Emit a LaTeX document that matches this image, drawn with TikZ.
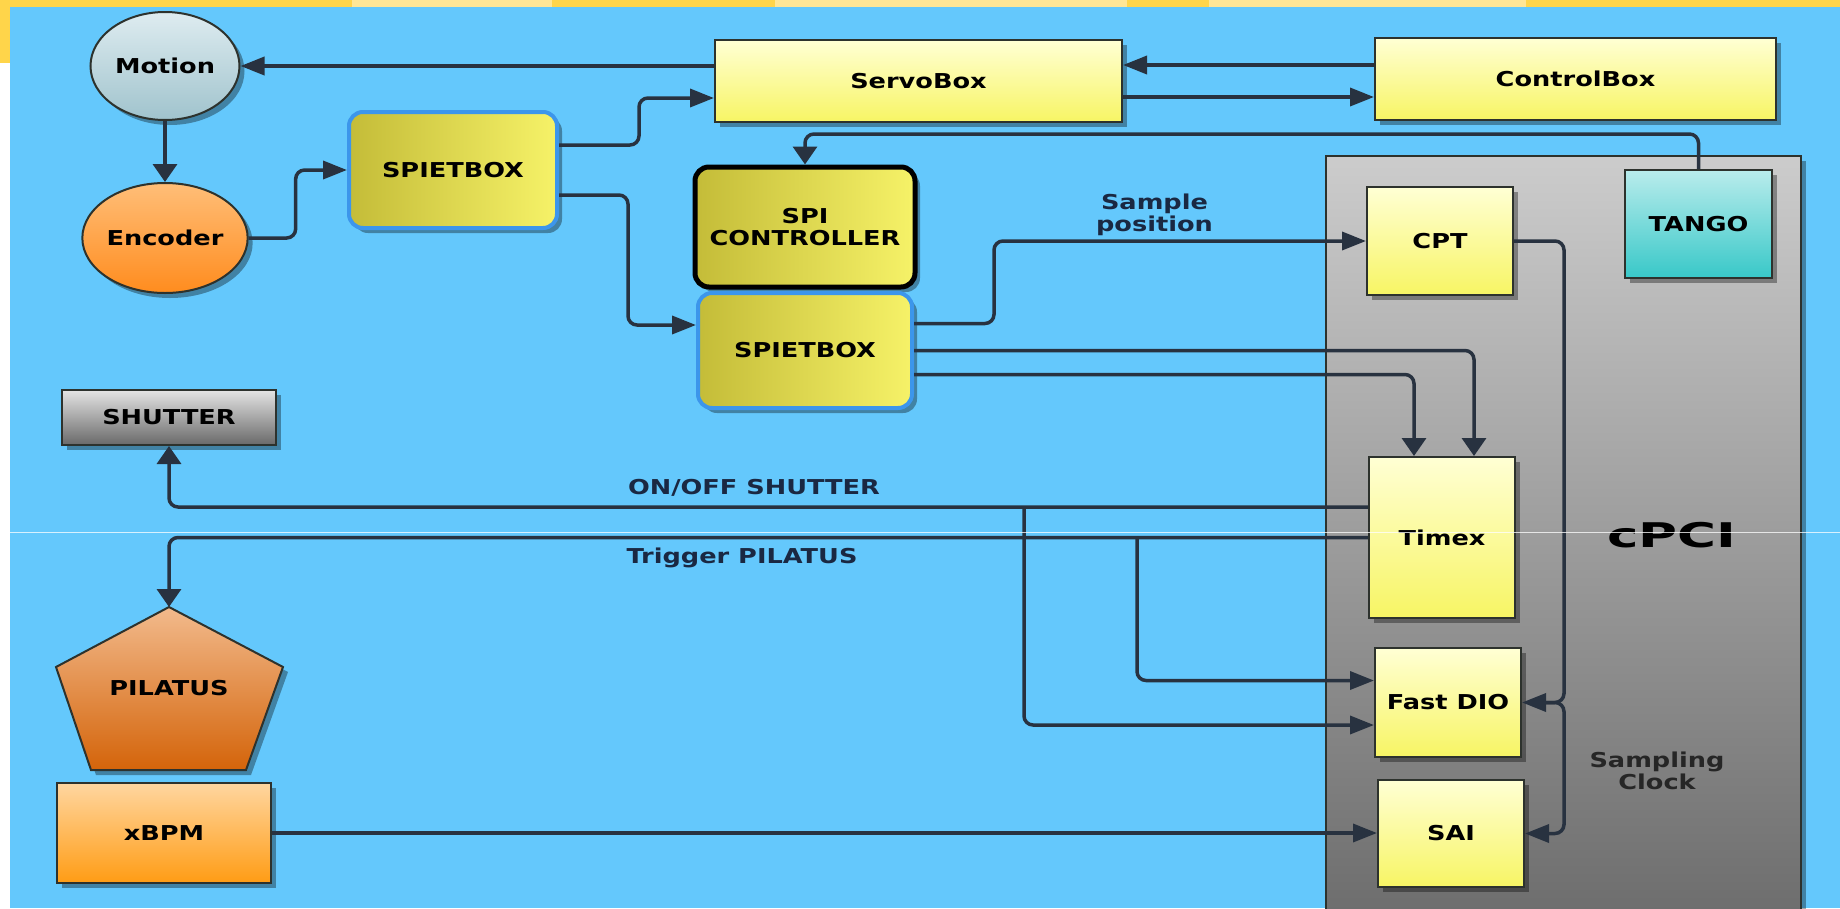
\documentclass[tikz,border=0pt]{standalone}
\usepackage{fontspec}
\setmainfont{DejaVu Sans}[FakeStretch=1.25]
\usetikzlibrary{arrows.meta,shapes.geometric,shadows}
\definecolor{bgblue}{RGB}{100,200,252}
\definecolor{bandyel}{RGB}{255,213,74}
\definecolor{bandlight}{RGB}{255,230,150}
\definecolor{linec}{RGB}{40,50,64}
\definecolor{boxline}{RGB}{45,50,45}
\definecolor{yelA}{RGB}{255,255,212}
\definecolor{yelB}{RGB}{247,245,100}
\definecolor{oliveA}{RGB}{196,188,56}
\definecolor{oliveB}{RGB}{246,242,104}
\definecolor{spiblue}{RGB}{60,150,235}
\definecolor{motA}{RGB}{222,236,240}
\definecolor{motB}{RGB}{160,195,205}
\definecolor{encA}{RGB}{255,190,120}
\definecolor{encB}{RGB}{255,140,30}
\definecolor{tanA}{RGB}{185,236,236}
\definecolor{tanB}{RGB}{56,200,200}
\definecolor{shuA}{RGB}{228,228,228}
\definecolor{shuB}{RGB}{105,105,105}
\definecolor{pilA}{RGB}{242,186,140}
\definecolor{pilB}{RGB}{212,100,10}
\definecolor{xbA}{RGB}{255,214,160}
\definecolor{xbB}{RGB}{255,156,20}
\definecolor{cpA}{RGB}{204,204,204}
\definecolor{cpB}{RGB}{108,108,108}
\definecolor{labc}{RGB}{26,40,66}
\newcommand{\nf}{\fontsize{20.5}{22}\selectfont\bfseries}
\begin{document}
\begin{tikzpicture}[x=1pt,y=-1pt,
 conn/.style={draw=linec,line width=3.5pt,rounded corners=9pt,-{Triangle[length=24pt,width=18pt]}},
 connv/.style={draw=linec,line width=3.5pt,rounded corners=9pt,-{Triangle[length=18pt,width=24pt]}},
 shad/.style={drop shadow={shadow xshift=5pt,shadow yshift=-5pt,opacity=0.35,fill=black}},
 nbase/.style={draw=boxline,line width=2pt,inner sep=0pt,align=center,font=\nf,text=black,shad},
 yelbox/.style={nbase,top color=yelA,bottom color=yelB},
 spibox/.style={nbase,rounded corners=14pt,left color=oliveA,right color=oliveB,draw=spiblue,line width=4pt},
 lab/.style={font=\nf,text=labc,align=center,inner sep=0pt}]
\clip (0,0) rectangle (1840,908);
% background
\fill[white] (0,0) rectangle (1840,908);
\fill[bandyel] (0,0) rectangle (1840,7);
\fill[bandyel] (0,0) rectangle (10,63);
\fill[bandlight] (352,0) rectangle (552,7);
\fill[bandlight] (775,0) rectangle (1127,7);
\fill[bandlight] (1209,0) rectangle (1526,7);
\fill[bgblue] (10,7) rectangle (1840,908);
% cPCI rack
\node[draw=boxline,line width=2pt,top color=cpA,bottom color=cpB,shad,
      minimum width=475pt,minimum height=770pt,anchor=north west,inner sep=0pt] (cpci) at (1325,155) {};
\node[font=\fontsize{34}{36}\selectfont\bfseries,text=black,inner sep=0pt] (cpcil) at (1672,535) {\scalebox{1.25}[1]{cPCI}};
% nodes
\node[nbase,ellipse,top color=motA,bottom color=motB,minimum width=149pt,minimum height=108pt] (motion) at (165,66) {Motion};
\node[nbase,ellipse,top color=encA,bottom color=encB,minimum width=149pt,minimum height=110pt] (encoder) at (165,238) {Encoder};
\node[yelbox,minimum width=407pt,minimum height=82pt] (servo) at (918.5,81) {ServoBox};
\node[yelbox,minimum width=401pt,minimum height=82pt] (control) at (1575.5,79) {ControlBox};
\node[spibox,minimum width=208pt,minimum height=116pt] (spiet1) at (453,170) {SPIETBOX};
\node[nbase,rounded corners=14pt,left color=oliveA,right color=oliveB,draw=black,line width=5pt,
      minimum width=220pt,minimum height=120pt] (spictrl) at (805,227) {SPI\\CONTROLLER};
\node[spibox,minimum width=214pt,minimum height=115pt] (spiet2) at (805,350.5) {SPIETBOX};
\node[nbase,top color=tanA,bottom color=tanB,minimum width=147pt,minimum height=108pt] (tango) at (1698.5,224) {TANGO};
\node[yelbox,minimum width=146pt,minimum height=108pt] (cpt) at (1440,241) {CPT};
\node[yelbox,minimum width=146pt,minimum height=161pt] (timex) at (1442,537.5) {Timex};
\node[yelbox,minimum width=146pt,minimum height=109pt] (fastdio) at (1448,702.5) {Fast DIO};
\node[yelbox,minimum width=146pt,minimum height=107pt] (sai) at (1451,833.5) {SAI};
\node[nbase,top color=shuA,bottom color=shuB,minimum width=214pt,minimum height=55pt] (shutter) at (169,417.5) {SHUTTER};
\path[draw=boxline,line width=2pt,top color=pilA,bottom color=pilB,shad]
  (169,607) -- (283,667) -- (246,770) -- (91,770) -- (56,667) -- cycle;
\node[font=\nf,text=black,inner sep=0pt] (pilatus) at (169,688) {PILATUS};
\coordinate (pilapex) at (169,607);
\node[nbase,top color=xbA,bottom color=xbB,minimum width=214pt,minimum height=100pt] (xbpm) at (164,833) {xBPM};
% labels
\node[lab] (lsample) at (1154.5,215) {Sample\\position};
\node[lab] (lonoff) at (754,488) {ON/OFF SHUTTER};
\node[lab] (ltrig) at (742,558) {Trigger PILATUS};
\node[font=\nf,text=black!85,align=center,inner sep=0pt] (lclock) at (1657,771) {Sampling\\Clock};
% helper coordinates
\coordinate (k1) at (994,0);
\coordinate (b1) at (1024,507);
\coordinate (b2) at (1137,537.5);
\coordinate (clk) at (1564,702.5);
\coordinate (clkl) at (1546,702.5);
\coordinate (cu) at ([yshift=14pt]control.west);
\coordinate (cl) at ([yshift=-18pt]control.west);
\coordinate (s2a) at ([yshift=27pt]spiet2.east);
% connectors
\draw[conn] (servo.west |- motion.east) -- (motion.east);
\draw[connv] (motion.south) -- (encoder.north);
\draw[conn] (encoder.east) -- ++(47,0) |- (spiet1.west);
\draw[conn] ([yshift=25pt]spiet1.east) -| (639,98) -- ([yshift=-17pt]servo.west);
\draw[conn] ([yshift=-25pt]spiet1.east) -| (628,325) -- ([yshift=25.5pt]spiet2.west);
\draw[connv] (tango.north) -- ++(0,-35) -| (spictrl.north);
\draw[conn] (cu) -- (cu -| servo.east);
\draw[conn] (cl -| servo.east) -- (cl);
\draw[conn] (s2a) -- (s2a -| k1) |- (cpt.west);
\draw[connv] (spiet2.east) -| ([xshift=32pt]timex.north);
\draw[connv] ([yshift=-24pt]spiet2.east) -| ([xshift=-28pt]timex.north);
\draw[conn] (cpt.east) -| (clk) -- (fastdio.east);
\draw[conn] (clkl) -- (clk) |- (sai.east);
\draw[connv] ([yshift=30.5pt]timex.west) -| (shutter.south);
\draw[conn] (b1) |- ([yshift=-22.5pt]fastdio.west);
\draw[connv] (timex.west) -| (pilapex);
\draw[conn] (b2) |- ([yshift=22pt]fastdio.west);
\draw[conn] (xbpm.east) -- (xbpm.east -| sai.west);
% scan artefact line
\draw[white,opacity=0.75,line width=1pt] (10,532) -- (1840,532);
\end{tikzpicture}
\end{document}
